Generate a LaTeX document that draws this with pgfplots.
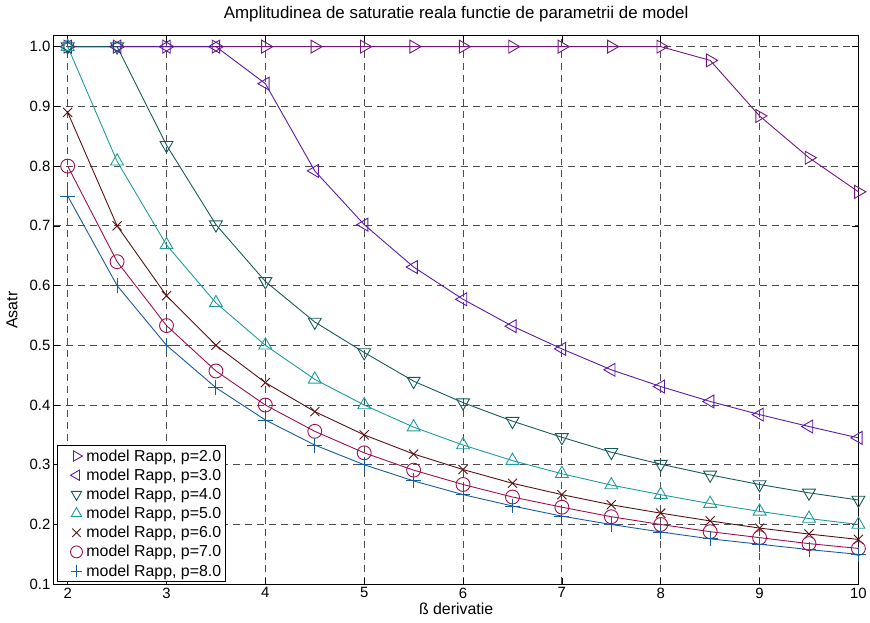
\documentclass[border=0pt]{standalone}
\usepackage{pgfplots}
\pgfplotsset{compat=1.18}
\usepackage{fontspec}
\setmainfont{Liberation Sans}
\definecolor{cA}{RGB}{116,22,127}
\definecolor{cB}{RGB}{90,26,168}
\definecolor{cC}{RGB}{24,90,90}
\definecolor{cD}{RGB}{32,155,155}
\definecolor{cE}{RGB}{90,16,16}
\definecolor{cF}{RGB}{156,16,80}
\definecolor{cG}{RGB}{26,90,160}
\begin{document}
\begin{tikzpicture}[x=1bp,y=1bp]
\begin{axis}[
  name=ax,
  scale only axis,
  width=807bp, height=550bp,
  xmin=1.86, xmax=10.0, ymin=0.1, ymax=1.018,
  xtick={2,3,...,10},
  ytick={0.1,0.2,...,1.0},
  yticklabel style={/pgf/number format/.cd,fixed,fixed zerofill,precision=1},
  /pgf/number format/assume math mode=true,
  tick label style={font=\fontsize{15}{17}\selectfont},
  label style={font=\fontsize{16}{18}\selectfont},
  title style={font=\fontsize{17}{19}\selectfont, at={(axis description cs:0.5,1.028)}, anchor=center},
  title={Amplitudinea de saturatie reala functie de parametrii de model},
  xlabel={ß derivatie},
  ylabel={Asatr},
  xlabel style={at={(axis description cs:0.5,-0.0455)}, anchor=center},
  ylabel style={at={(axis description cs:-0.052,0.5)}, anchor=center},
  tick align=inside,
  major tick length=6bp,
  tick style={black, line width=0.6pt},
  grid=major,
  major grid style={black!70, dashed, line width=0.8pt, dash pattern=on 7bp off 5bp},
  axis line style={line width=1pt},
  legend style={at={(axis description cs:0.004,0.004)}, anchor=south west, font=\fontsize{16}{18}\selectfont, draw=black, line width=1pt, inner sep=2pt, row sep=2.2bp},
  legend cell align=left,
  every axis plot/.append style={line width=0.9pt, mark size=7.5pt},
  legend image code/.code={\path[draw=none,fill=none] (0bp,0bp) -- (25bp,0bp); \draw[#1, mark size=6pt] plot coordinates {(17bp,0bp)};},
]
\addplot[cA, mark=triangle, mark options={rotate=-90}] coordinates {
(2,1.0)(2.5,1.0)(3,1.0)(3.5,1.0)(4,1.0)(4.5,1.0)(5,1.0)(5.5,1.0)(6,1.0)(6.5,1.0)(7,1.0)(7.5,1.0)(8,1.0)(8.5,0.977)(9,0.884)(9.5,0.814)(10,0.757)};
\addlegendentry{model Rapp, p=2.0\hspace{8bp}}
\addplot[cB, mark=triangle, mark options={rotate=90}] coordinates {
(2,1.0)(2.5,1.0)(3,1.0)(3.5,1.0)(4,0.938)(4.5,0.792)(5,0.702)(5.5,0.631)(6,0.577)(6.5,0.532)(7,0.494)(7.5,0.459)(8,0.431)(8.5,0.406)(9,0.384)(9.5,0.364)(10,0.345)};
\addlegendentry{model Rapp, p=3.0}
\addplot[cC, mark=triangle, mark options={rotate=180}] coordinates {
(2,1.0)(2.5,1.0)(3,0.835)(3.5,0.702)(4,0.607)(4.5,0.539)(5,0.488)(5.5,0.440)(6,0.404)(6.5,0.373)(7,0.346)(7.5,0.321)(8,0.301)(8.5,0.283)(9,0.267)(9.5,0.253)(10,0.241)};
\addlegendentry{model Rapp, p=4.0}
\addplot[cD, mark=triangle] coordinates {
(2,1.0)(2.5,0.808)(3,0.668)(3.5,0.571)(4,0.500)(4.5,0.443)(5,0.400)(5.5,0.363)(6,0.333)(6.5,0.307)(7,0.285)(7.5,0.266)(8,0.250)(8.5,0.235)(9,0.222)(9.5,0.210)(10,0.200)};
\addlegendentry{model Rapp, p=5.0}
\addplot[cE, mark=x, mark size=6.5pt] coordinates {
(2,0.890)(2.5,0.700)(3,0.583)(3.5,0.500)(4,0.4375)(4.5,0.389)(5,0.350)(5.5,0.318)(6,0.292)(6.5,0.269)(7,0.250)(7.5,0.233)(8,0.219)(8.5,0.206)(9,0.194)(9.5,0.184)(10,0.175)};
\addlegendentry{model Rapp, p=6.0}
\addplot[cF, mark=o, mark size=7pt] coordinates {
(2,0.800)(2.5,0.640)(3,0.533)(3.5,0.457)(4,0.400)(4.5,0.356)(5,0.320)(5.5,0.291)(6,0.267)(6.5,0.246)(7,0.229)(7.5,0.213)(8,0.200)(8.5,0.188)(9,0.178)(9.5,0.168)(10,0.160)};
\addlegendentry{model Rapp, p=7.0}
\addplot[cG, mark=+] coordinates {
(2,0.750)(2.5,0.600)(3,0.500)(3.5,0.429)(4,0.375)(4.5,0.333)(5,0.300)(5.5,0.273)(6,0.250)(6.5,0.231)(7,0.214)(7.5,0.200)(8,0.1875)(8.5,0.176)(9,0.167)(9.5,0.158)(10,0.150)};
\addlegendentry{model Rapp, p=8.0}
\end{axis}
\path ([xshift=-54bp,yshift=36bp]ax.north west) ([xshift=9bp,yshift=-38bp]ax.south east);
\end{tikzpicture}
\end{document}
